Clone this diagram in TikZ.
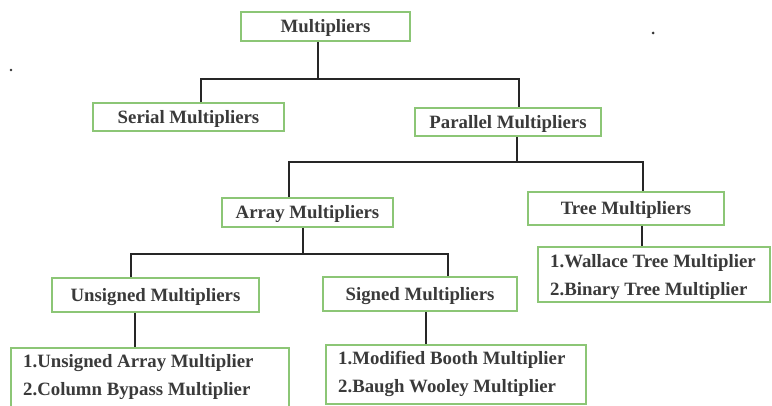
\documentclass[tikz,border=0pt]{standalone}
\usepackage{fontspec}
\setmainfont{Liberation Serif}
\definecolor{boxgreen}{RGB}{140,198,118}
\definecolor{inkgray}{RGB}{58,58,58}
\begin{document}
\begin{tikzpicture}[x=1pt,y=-1pt,
  box/.style={draw=boxgreen, line width=1.6pt, fill=white, inner sep=0pt,
    text height=13pt, text depth=0pt,
    font=\fontsize{18.8}{28}\selectfont\bfseries, text=inkgray},
  listtext/.style={anchor=west, align=left, inner sep=0pt,
    font=\fontsize{18.8}{28}\selectfont\bfseries, text=inkgray},
  conn/.style={draw=black!85, line width=2.6pt}]
\useasboundingbox (0,0) rectangle (772,406);
\clip (0,0) rectangle (772,406);

% category boxes
\node[box, minimum width=169, minimum height=29] (mult) at (325.5,26.5) {Multipliers};
\node[box, minimum width=191, minimum height=28] (serial) at (188.5,117) {Serial Multipliers};
\node[box, minimum width=186, minimum height=28] (parallel) at (508,122) {Parallel Multipliers};
\node[box, minimum width=171, minimum height=29] (array) at (307.5,212.5) {Array Multipliers};
\node[box, minimum width=196, minimum height=33] (tree) at (626,208.5) {Tree Multipliers};
\node[box, minimum width=207, minimum height=34] (unsigned) at (155.5,295) {Unsigned Multipliers};
\node[box, minimum width=194, minimum height=34] (signed) at (420,294) {Signed Multipliers};

% list boxes
\node[box, minimum width=278, minimum height=82] (ulist) at (150,389) {};
\node[box, minimum width=260, minimum height=59] (slist) at (456,374.5) {};
\node[box, minimum width=232, minimum height=55] (tlist) at (654,274.5) {};
\node[listtext] (ultext) at (23,377) {1.Unsigned Array Multiplier\\2.Column Bypass Multiplier};
\node[listtext] (sltext) at (338,374) {1.Modified Booth Multiplier\\2.Baugh Wooley Multiplier};
\node[listtext] (tltext) at (550,277) {1.Wallace Tree Multiplier\\2.Binary Tree Multiplier};

% bus levels
\coordinate (bus1) at (0,79);
\coordinate (bus2) at (0,162);
\coordinate (bus3) at (0,254);

% connector end points
\coordinate (m0) at ([xshift=-7.5pt]mult.south);
\coordinate (s0) at ([xshift=12.5pt]serial.north);
\coordinate (p0) at ([xshift=11pt]parallel.north);
\coordinate (p1) at ([xshift=9pt]parallel.south);
\coordinate (a0) at ([xshift=-18.5pt]array.north);
\coordinate (t0) at ([xshift=17pt]tree.north);
\coordinate (a1) at ([xshift=-4.5pt]array.south);
\coordinate (u0) at ([xshift=-24.5pt]unsigned.north);
\coordinate (g0) at ([xshift=28pt]signed.north);
\coordinate (u1) at ([xshift=-20.5pt]unsigned.south);
\coordinate (g1) at ([xshift=6pt]signed.south);
\coordinate (t1) at ([xshift=16pt]tree.south);

% connectors
\draw[conn] (m0) -- (m0 |- bus1);
\draw[conn] (s0) |- (m0 |- bus1) -| (p0);
\draw[conn] (p1) -- (p1 |- bus2);
\draw[conn] (a0) |- (p1 |- bus2) -| (t0);
\draw[conn] (a1) -- (a1 |- bus3);
\draw[conn] (u0) |- (a1 |- bus3) -| (g0);
\draw[conn] (u1) -- (u1 |- ulist.north);
\draw[conn] (g1) -- (g1 |- slist.north);
\draw[conn] (t1) -- (t1 |- tlist.north);

% stray marks
\fill[black!80] (653,33) circle (1.5);
\fill[black!80] (11,70) circle (1.3);
\end{tikzpicture}
\end{document}
